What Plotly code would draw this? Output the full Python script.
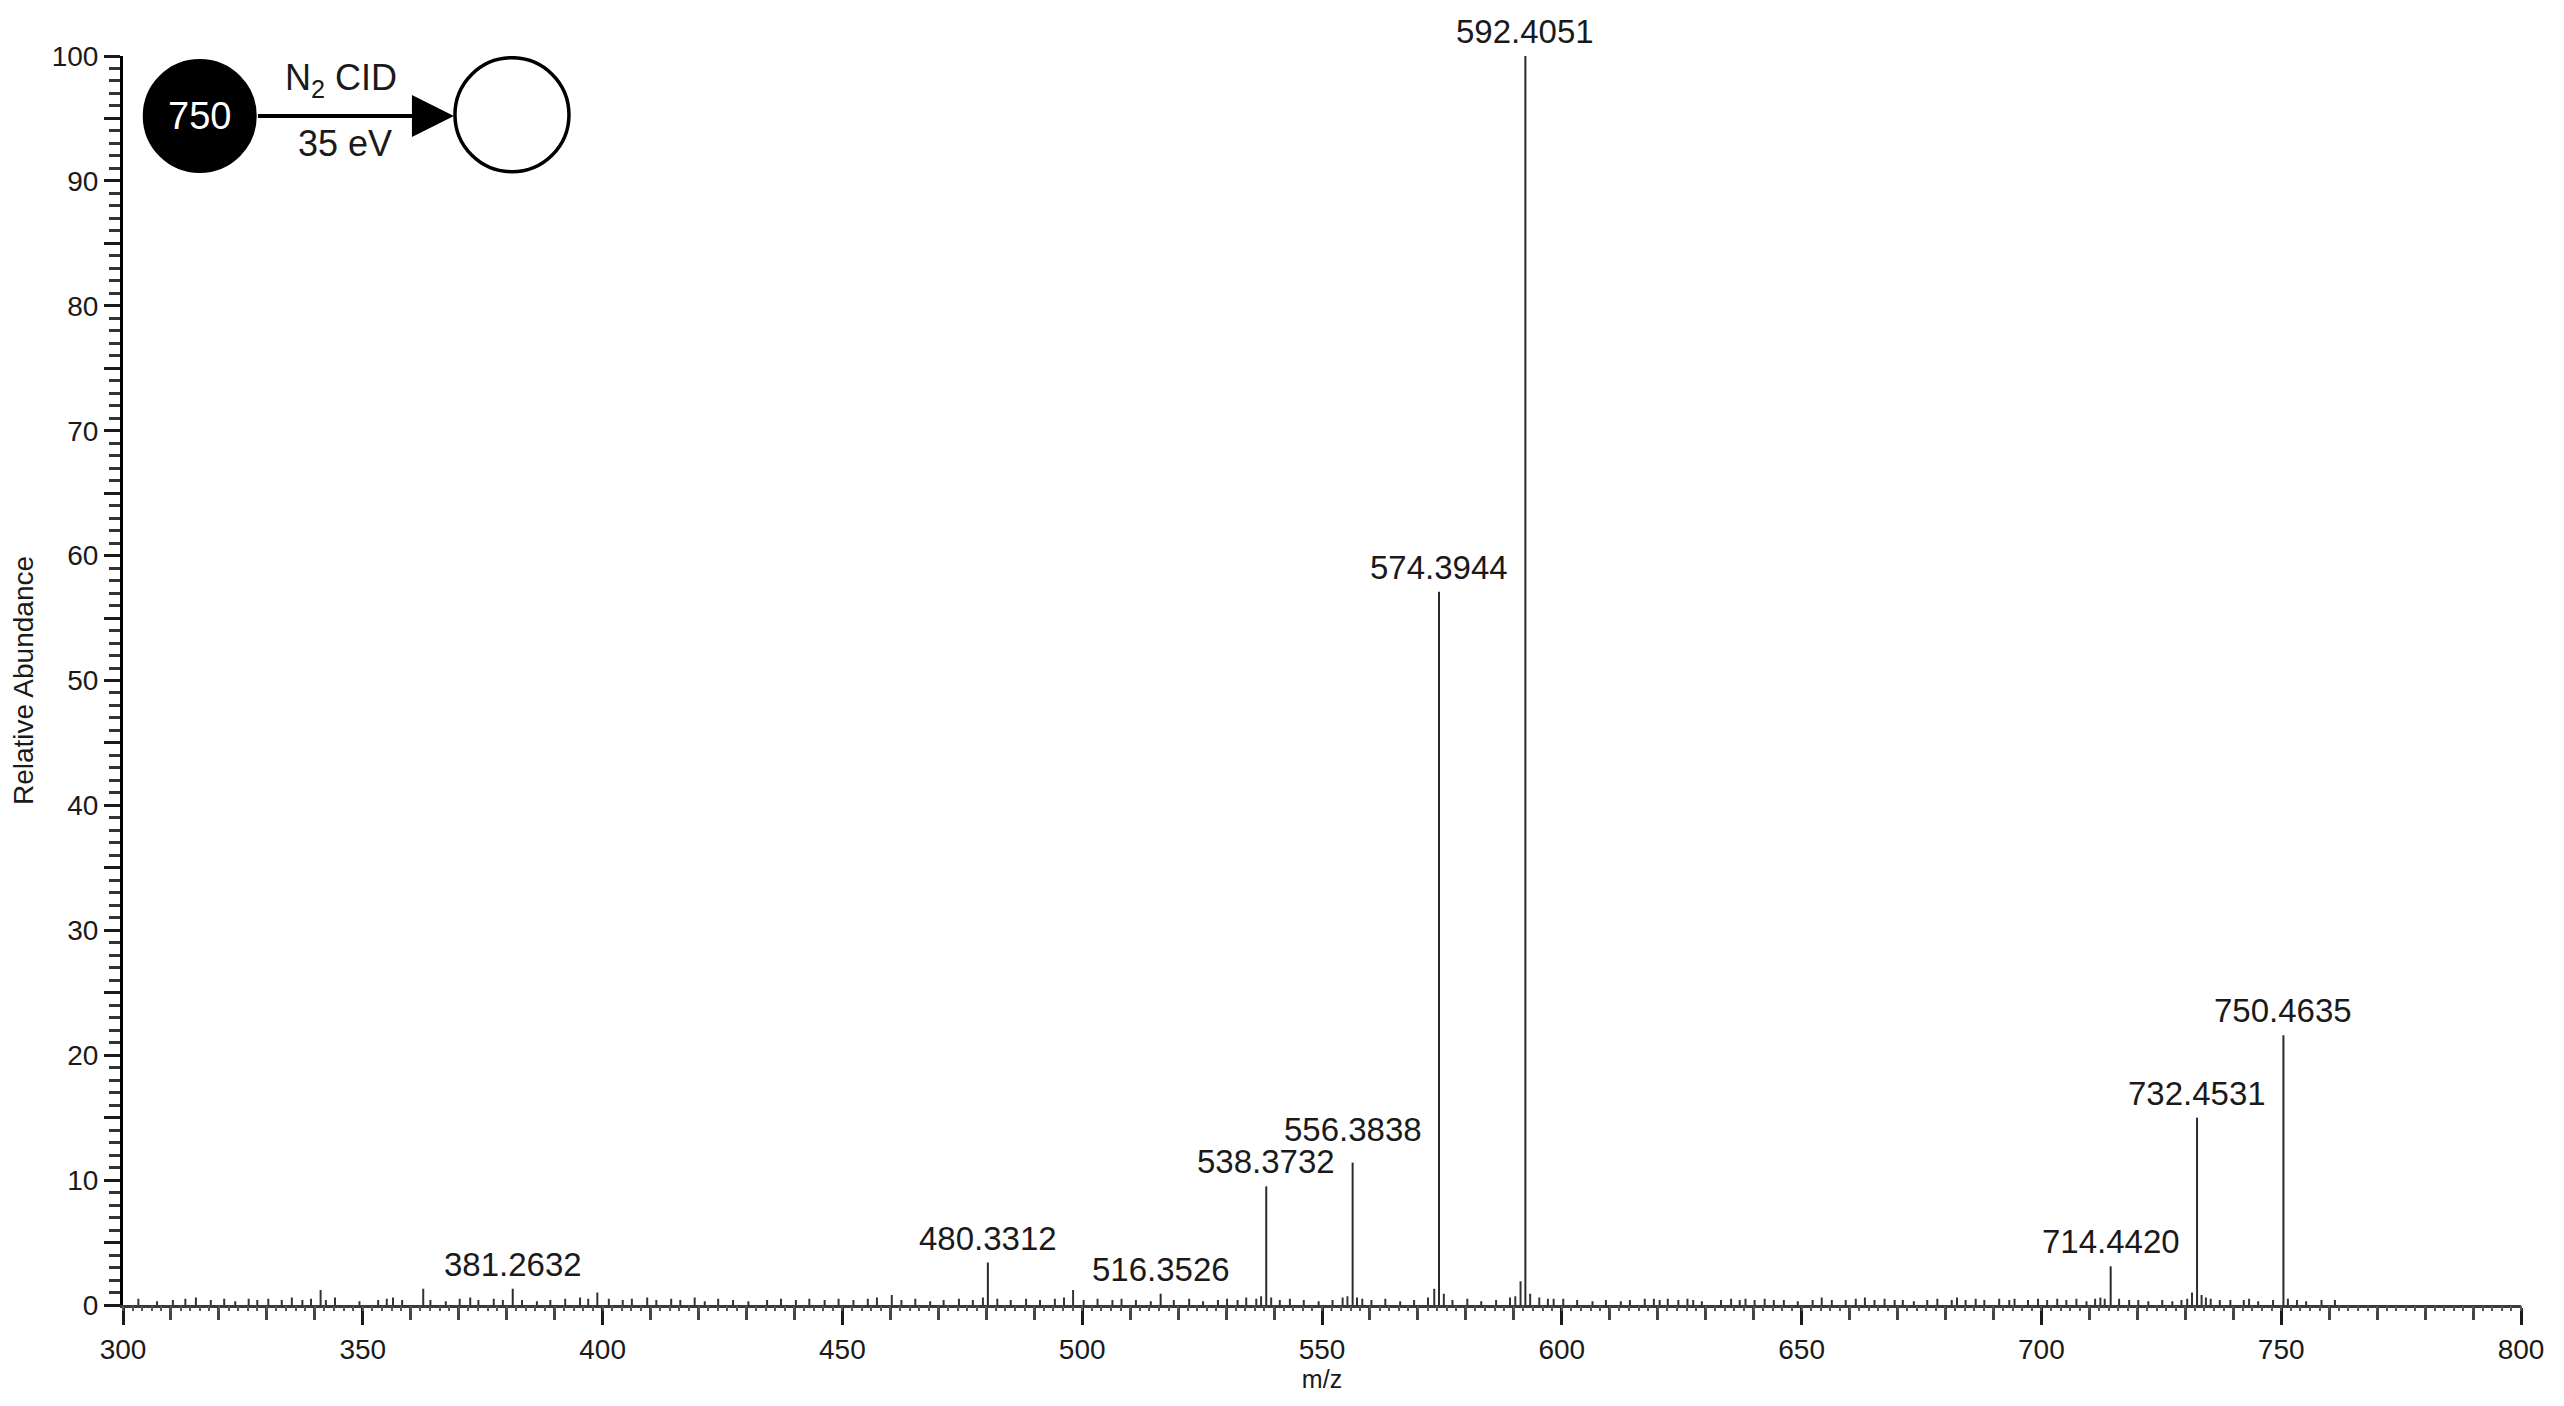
import plotly.graph_objects as go

# ----------------------------
# Spectrum data (m/z, relative abundance %)
# ----------------------------

peak_mz = [381.2632, 480.3312, 516.3526, 538.3732, 556.3838,
           574.3944, 592.4051, 714.4420, 732.4531, 750.4635]
peak_int = [1.3, 3.4, 0.9, 9.5, 11.4, 57.1, 100.0, 3.1, 15.0, 21.6]

noise_mz = [
    303.2, 307.1, 310.4, 313.0, 315.2, 318.3, 321.1, 323.4, 326.2, 328.0,
    330.3, 333.1, 335.2, 337.4, 339.2, 341.2, 342.3, 344.2, 349.3, 353.2,
    355.0, 356.3, 358.2, 362.6, 364.1, 367.3, 370.2, 372.4, 374.1, 377.3,
    379.2, 383.2, 386.3, 389.1, 392.2, 395.3, 397.0, 398.9, 401.3, 404.2,
    406.1, 409.3, 411.2, 414.3, 416.2, 419.2, 421.3, 424.1, 427.2, 430.4,
    434.3, 437.2, 440.3, 443.1, 446.3, 449.2, 452.3, 455.3, 457.2, 460.3,
    462.3, 465.2, 468.3, 471.1, 474.3, 477.2, 479.3, 482.3, 485.1, 488.3,
    491.2, 494.3, 496.2, 498.1, 500.3, 503.2, 506.3, 508.2, 511.2, 514.3,
    519.1, 522.3, 525.2, 528.3, 530.2, 532.4, 534.2, 536.3, 537.3, 539.4,
    541.2, 543.3, 546.2, 549.3, 552.2, 554.3, 555.3, 557.3, 558.4, 560.3,
    563.2, 566.3, 569.2, 572.1, 573.4, 575.4, 577.2, 580.3, 583.2, 586.3,
    589.2, 590.3, 591.4, 593.4, 595.3, 597.1, 598.3, 600.3, 603.2, 606.4,
    609.2, 612.3, 614.2, 617.3, 619.2, 620.4, 622.1, 624.3, 626.2, 627.4,
    629.2, 633.2, 635.3, 637.1, 638.3, 640.2, 642.3, 644.2, 646.3, 649.2,
    652.3, 654.2, 656.3, 659.2, 661.3, 663.2, 665.2, 667.3, 669.4, 671.1,
    673.4, 676.2, 678.3, 681.3, 682.4, 684.2, 686.3, 688.1, 691.2, 693.3,
    694.4, 697.2, 699.3, 701.2, 703.3, 705.2, 707.3, 709.4, 711.2, 712.3,
    713.2, 716.2, 718.3, 720.2, 722.3, 725.2, 727.3, 729.2, 730.4, 731.4,
    733.4, 734.3, 735.3, 737.2, 739.4, 742.2, 743.3, 745.2, 748.3, 751.4,
    753.3, 755.2, 758.4, 761.2,
]
noise_int = [
    0.5, 0.3, 0.4, 0.5, 0.6, 0.4, 0.5, 0.3, 0.5, 0.4,
    0.5, 0.4, 0.6, 0.4, 0.5, 1.2, 0.4, 0.6, 0.3, 0.4,
    0.5, 0.6, 0.4, 1.3, 0.4, 0.3, 0.5, 0.6, 0.4, 0.5,
    0.4, 0.4, 0.3, 0.4, 0.5, 0.6, 0.5, 1.0, 0.5, 0.4,
    0.5, 0.6, 0.4, 0.5, 0.4, 0.6, 0.3, 0.5, 0.4, 0.3,
    0.4, 0.5, 0.4, 0.5, 0.4, 0.5, 0.4, 0.5, 0.6, 0.8,
    0.4, 0.5, 0.3, 0.4, 0.5, 0.4, 0.6, 0.5, 0.4, 0.5,
    0.4, 0.5, 0.6, 1.2, 0.4, 0.5, 0.4, 0.5, 0.4, 0.3,
    0.4, 0.5, 0.3, 0.4, 0.5, 0.4, 0.6, 0.5, 0.7, 0.6,
    0.4, 0.5, 0.4, 0.3, 0.4, 0.6, 0.7, 0.6, 0.5, 0.4,
    0.5, 0.3, 0.4, 0.6, 1.3, 0.9, 0.4, 0.5, 0.3, 0.4,
    0.6, 0.7, 1.9, 0.9, 0.6, 0.5, 0.5, 0.5, 0.4, 0.3,
    0.4, 0.3, 0.4, 0.5, 0.5, 0.4, 0.5, 0.4, 0.5, 0.4,
    0.3, 0.4, 0.5, 0.4, 0.5, 0.4, 0.5, 0.4, 0.4, 0.3,
    0.4, 0.6, 0.4, 0.4, 0.5, 0.6, 0.4, 0.5, 0.4, 0.4,
    0.3, 0.4, 0.5, 0.4, 0.6, 0.4, 0.5, 0.4, 0.5, 0.4,
    0.5, 0.4, 0.5, 0.4, 0.5, 0.4, 0.5, 0.3, 0.5, 0.6,
    0.5, 0.5, 0.4, 0.4, 0.3, 0.4, 0.3, 0.4, 0.5, 1.0,
    0.8, 0.6, 0.5, 0.4, 0.4, 0.4, 0.5, 0.3, 0.4, 0.5,
    0.4, 0.3, 0.4, 0.4,
]

X_RANGE = [300, 800]
FONT = "Arial, Liberation Sans, sans-serif"
INK = "#1a1a1a"


def stick_xy(mz, inten):
    xs, ys = [], []
    for m, h in zip(mz, inten):
        xs += [m, m, None]
        ys += [0, h, None]
    return xs, ys


fig = go.Figure()

nx, ny = stick_xy(noise_mz, noise_int)
fig.add_trace(go.Scatter(x=nx, y=ny, mode="lines", xaxis="x2",
                         line=dict(color="#333333", width=2),
                         hoverinfo="skip", showlegend=False))

px_, py_ = stick_xy(peak_mz, peak_int)
fig.add_trace(go.Scatter(x=px_, y=py_, mode="lines",
                         line=dict(color="#2a2a2a", width=2),
                         showlegend=False))

# peak labels
for m, h in zip(peak_mz, peak_int):
    extra = 9 if m == 556.3838 else 0
    fig.add_annotation(x=m, y=h, text=f"{m:.4f}", showarrow=False,
                       yanchor="bottom", yshift=4 + extra,
                       font=dict(family=FONT, size=33, color=INK))

# ----------------------------
# Inset: precursor -> product scheme
# ----------------------------
fig.add_shape(type="circle", xref="x", yref="y",
              xsizemode="pixel", ysizemode="pixel",
              xanchor=316.0, yanchor=95.2, x0=-56, x1=56, y0=-56, y1=56,
              fillcolor="black", line=dict(color="black", width=2))
fig.add_shape(type="circle", xref="x", yref="y",
              xsizemode="pixel", ysizemode="pixel",
              xanchor=381.1, yanchor=95.3, x0=-57, x1=57, y0=-57, y1=57,
              fillcolor="white", line=dict(color="black", width=3.5))
fig.add_annotation(x=316.0, y=95.2, text="750", showarrow=False,
                   font=dict(family=FONT, size=38, color="white"))
fig.add_annotation(x=369.0, y=95.2, ax=-199, ay=0, text=" ",
                   showarrow=True, arrowhead=2, arrowsize=2.1,
                   arrowwidth=4, arrowcolor="black")
fig.add_annotation(x=345.5, y=98.1, text="N<sub>2</sub> CID", showarrow=False,
                   font=dict(family=FONT, size=36, color=INK))
fig.add_annotation(x=346.2, y=93.0, text="35 eV", showarrow=False,
                   font=dict(family=FONT, size=36, color=INK))

y_ticks = list(range(0, 101, 5))

# page body adds an 8px offset, so the figure is sized to compensate
fig.update_layout(
    width=2548,
    height=1390,
    margin=dict(l=110, r=33, t=48, b=92),
    paper_bgcolor="white",
    plot_bgcolor="white",
    font=dict(family=FONT, color=INK),
    xaxis=dict(
        range=X_RANGE,
        showgrid=False, zeroline=False,
        showline=True, linecolor="#3a3a3a", linewidth=3,
        ticks="outside", tickvals=list(range(300, 801, 50)),
        ticklen=17, tickwidth=2.5, tickcolor=INK,
        tickfont=dict(size=28, color=INK),
        minor=dict(dtick=10, ticks="outside", ticklen=12,
                   tickwidth=2.5, tickcolor="#444444"),
        title=dict(text="m/z", font=dict(size=25, color=INK), standoff=4),
    ),
    xaxis2=dict(
        range=X_RANGE, overlaying="x", anchor="y", side="bottom",
        showgrid=False, zeroline=False, showline=False,
        showticklabels=False,
        ticks="outside", dtick=2, tick0=300, ticklen=5,
        tickwidth=2, tickcolor="#555555",
    ),
    yaxis=dict(
        range=[0, 100],
        showgrid=False, zeroline=False,
        showline=True, linecolor="black", linewidth=3,
        ticks="outside", tickvals=y_ticks,
        ticktext=[str(v) if v % 10 == 0 else " " for v in y_ticks],
        ticklen=16, tickwidth=2.5, tickcolor=INK,
        tickfont=dict(size=28, color=INK),
        minor=dict(dtick=1, ticks="outside", ticklen=11,
                   tickwidth=2.5, tickcolor="#333333"),
        title=dict(text="Relative Abundance",
                   font=dict(size=28, color=INK), standoff=12),
    ),
)

fig.write_html("out.html")
